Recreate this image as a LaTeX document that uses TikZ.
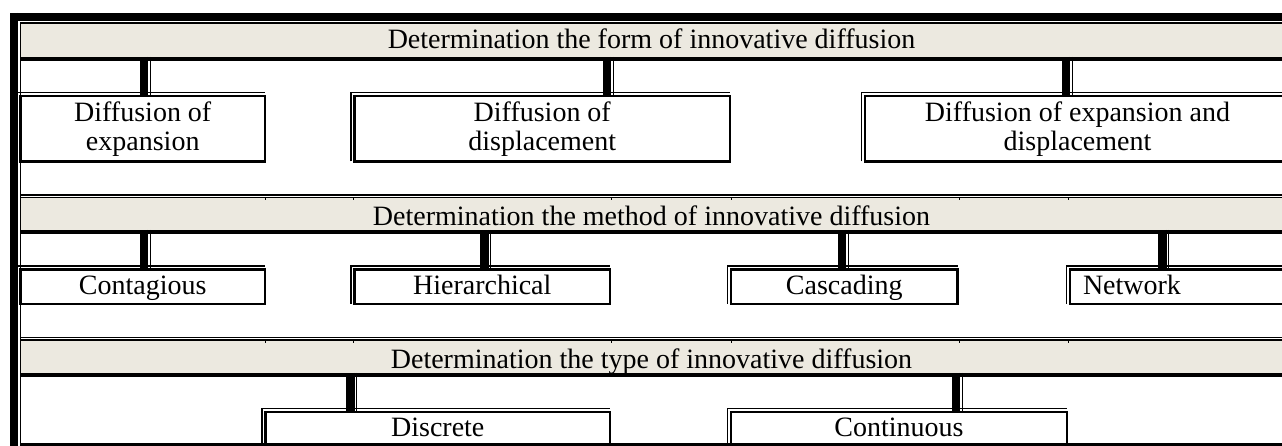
\documentclass[tikz,border=0pt]{standalone}
\usepackage{fontspec}
\setmainfont{Liberation Serif}
\definecolor{bandfill}{RGB}{236,233,224}
\begin{document}
\begin{tikzpicture}[x=1bp,y=-1bp,
  font=\fontsize{28bp}{29bp}\selectfont,
  band/.style={fill=bandfill, inner sep=0, outer sep=0, anchor=north west,
    minimum width=1261bp, text depth=0bp},
  box/.style={draw, line width=2.5bp, inner sep=0, outer sep=0, anchor=north west, align=center},
  onebox/.style={box, text depth=0bp},
  conn/.style={line width=8.5bp, postaction={draw, line width=1.1bp, transform canvas={xshift=6.3bp}}},
  thinline/.style={line width=1.1bp},
  frameline/.style={line width=8bp},
  tick/.style={line width=1bp}
]
\useasboundingbox (0,0) rectangle (1282,446);

% bands
\node[band, minimum height=33bp, text height=16bp] (F) at (21,24) {Determination the form of innovative diffusion};
\node[band, minimum height=31.5bp, text height=23bp] (M) at (21,198.5) {Determination the method of innovative diffusion};
\node[band, minimum height=32bp, text height=22.6bp] (T) at (21,341) {Determination the type of innovative diffusion};

% frame lines
\draw[frameline] (14,13) -- (14,446);
\draw[frameline] (10,17) -- (1282,17);
\draw[thinline] (20.5,22.5) -- (20.5,446);
\draw[thinline] (20,23) -- (1282,23);
\draw[line width=4bp] (20,58.7) -- (1282,58.7);
\draw[thinline] (20,195) -- (1282,195);
\draw[thinline] (20,197.4) -- (1282,197.4);
\draw[line width=4bp] (20,232) -- (1282,232);
\draw[thinline] (20,337.4) -- (1282,337.4);
\draw[thinline] (20,340) -- (1282,340);
\draw[line width=4bp] (20,375.3) -- (1282,375.3);
\draw[line width=2.4bp] (20,444.5) -- (1282,444.5);
\foreach \x in {265,353,611,731,959,1068} {
  \draw[tick] (\x,197.5) -- (\x,200);
  \draw[tick] (\x,340.5) -- (\x,343);
}

% row 1 boxes
\node[box, minimum width=244.5bp, minimum height=65.5bp] (B1) at (20.5,96) {Diffusion of\\expansion};
\node[box, minimum width=375.5bp, minimum height=65.5bp] (B2) at (354.5,96) {Diffusion of\\displacement};
\node[box, minimum width=425bp, minimum height=65.5bp] (B3) at (865,96) {Diffusion of expansion and\\displacement};

% row 2 boxes
\node[onebox, text height=16.5bp, minimum width=244.5bp, minimum height=34.5bp] (C1) at (20.5,269.5) {Contagious};
\node[onebox, text height=16.5bp, minimum width=255.5bp, minimum height=34.5bp] (C2) at (354.5,269.5) {Hierarchical};
\node[onebox, text height=16.5bp, minimum width=226.5bp, minimum height=34.5bp] (C3) at (731,269.5) {Cascading};
\node[onebox, text height=16.5bp, minimum width=220bp, minimum height=34.5bp, inner xsep=13bp] (C4) at (1070,269.5) {\makebox[194bp][l]{Network}};

% row 3 boxes
\node[onebox, text height=17.5bp, minimum width=344.5bp, minimum height=32.5bp] (D1) at (265.5,412) {Discrete};
\node[onebox, text height=17.5bp, minimum width=336bp, minimum height=32.5bp] (D2) at (731,412) {Continuous};

% thin outer lines of boxes
\foreach \n in {B1,B2,B3,C1,C2,C3,C4,D1,D2}
  \draw[thinline] ([shift={(-3.5,0)}]\n.south west) -- ([shift={(-3.5,-3.5)}]\n.north west) -- ([shift={(0,-3.5)}]\n.north east);

% connector positions
\coordinate (k11) at (144,0);
\coordinate (k12) at (607,0);
\coordinate (k13) at (1066,0);
\coordinate (k21) at (144,0);
\coordinate (k22) at (484.5,0);
\coordinate (k23) at (842,0);
\coordinate (k24) at (1162.5,0);
\coordinate (k31) at (350.5,0);
\coordinate (k32) at (956,0);

% connectors
\draw[conn] (F.south -| k11) -- (B1.north -| k11);
\draw[conn] (F.south -| k12) -- (B2.north -| k12);
\draw[conn] (F.south -| k13) -- (B3.north -| k13);
\draw[conn] (M.south -| k21) -- (C1.north -| k21);
\draw[conn] (M.south -| k22) -- (C2.north -| k22);
\draw[conn] (M.south -| k23) -- (C3.north -| k23);
\draw[conn] (M.south -| k24) -- (C4.north -| k24);
\draw[conn] (T.south -| k31) -- (D1.north -| k31);
\draw[conn] (T.south -| k32) -- (D2.north -| k32);
\end{tikzpicture}
\end{document}
